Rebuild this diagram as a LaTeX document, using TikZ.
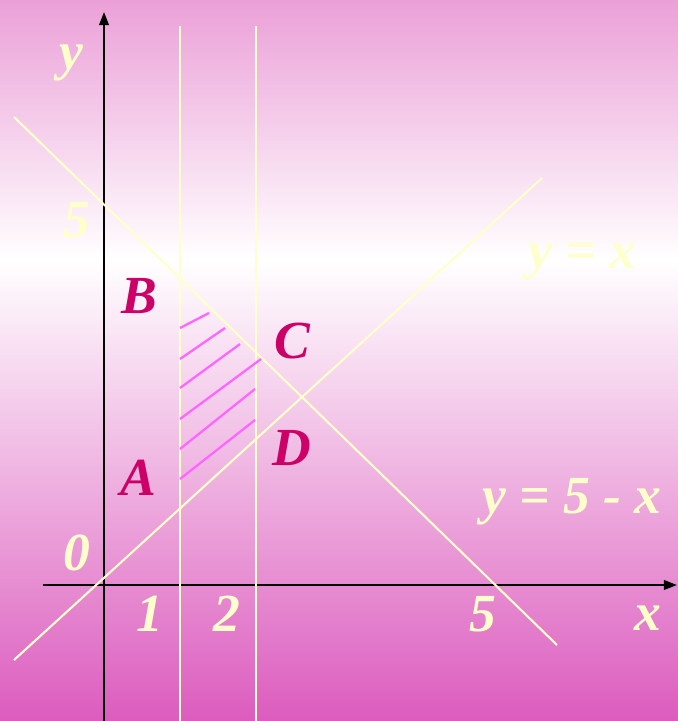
\documentclass[tikz,border=0pt]{standalone}
\usepackage{fontspec}
\setmainfont{Liberation Serif}
\usetikzlibrary{arrows.meta, positioning, calc}
\definecolor{cpinktop}{HTML}{EBA0D8}
\definecolor{cpinkbot}{HTML}{DC5CBE}
\definecolor{cyellow}{HTML}{FFFFCC}
\definecolor{cmagenta}{HTML}{CC0066}
\definecolor{chatch}{HTML}{FF66FF}
\tikzset{
  every picture/.style={x=0.02cm, y=-0.02cm},
  axis/.style={-{Triangle[length=7.5pt, width=5.5pt]}, draw=black, line width=1.2pt},
  guide/.style={draw=cyellow, line width=1.2pt},
  hatch/.style={draw=chatch, line width=1.3pt},
  lbl/.style={font=\fontsize{30.5}{36}\selectfont\bfseries\itshape, inner sep=0pt},
  numlbl/.style={lbl, text=cyellow},
  ptlbl/.style={lbl, text=cmagenta},
}
\begin{document}
\begin{tikzpicture}
  \useasboundingbox (0,0) rectangle (678,721);
  \shade[top color=cpinktop, bottom color=white] (0,0) rectangle (678,260);
  \shade[top color=white, bottom color=cpinkbot] (0,260) rectangle (678,721);
  % axes
  \coordinate (xbeg) at (43,585); \coordinate (xtip) at (677,585);
  \coordinate (ybeg) at (104,721); \coordinate (ytip) at (104,12);
  \draw[axis] (xbeg) -- (xtip);
  \draw[axis] (ybeg) -- (ytip);
  % x = 1 and x = 2
  \coordinate (v1top) at (180,26); \coordinate (v1bot) at (180,721);
  \coordinate (v2top) at (256,26); \coordinate (v2bot) at (256,721);
  \draw[guide] (v1top) -- (v1bot);
  \draw[guide] (v2top) -- (v2bot);
  % y = 5 - x and y = x
  \coordinate (ma) at (14,117); \coordinate (mb) at (557,645);
  \coordinate (pa) at (14,660); \coordinate (pb) at (542,178);
  \draw[guide] (ma) -- (mb);
  \draw[guide] (pa) -- (pb);
  % shaded region
  \foreach \a/\b/\c in {328/209/313, 359/225/328, 388/240/344, 419/261/359, 449/255/389, 479/255/420}
    \draw[hatch] (180,\a) -- (\b,\c);
  % labels
  \node[numlbl] (ylab) at (71,63) {y};
  \node[numlbl] (xlab) at (648,618) {x};
  \node[numlbl] (five) at (77,220) {5};
  \node[numlbl] (zero) at (77,553) {0};
  \foreach \x/\l in {150/1, 227/2, 483/5} \node[numlbl] (t\l) at (\x,614) {\l};
  \node[numlbl] (eqid) at (582,262) {y = x};
  \node[numlbl] (eqsum) at (572,502) {y = 5 - x};
  \node[ptlbl] (A) at (138,478) {A};
  \node[ptlbl] (B) at (139,296) {B};
  \node[ptlbl] (C) at (292,341) {C};
  \node[ptlbl] (D) at (292,448) {D};
\end{tikzpicture}
\end{document}
